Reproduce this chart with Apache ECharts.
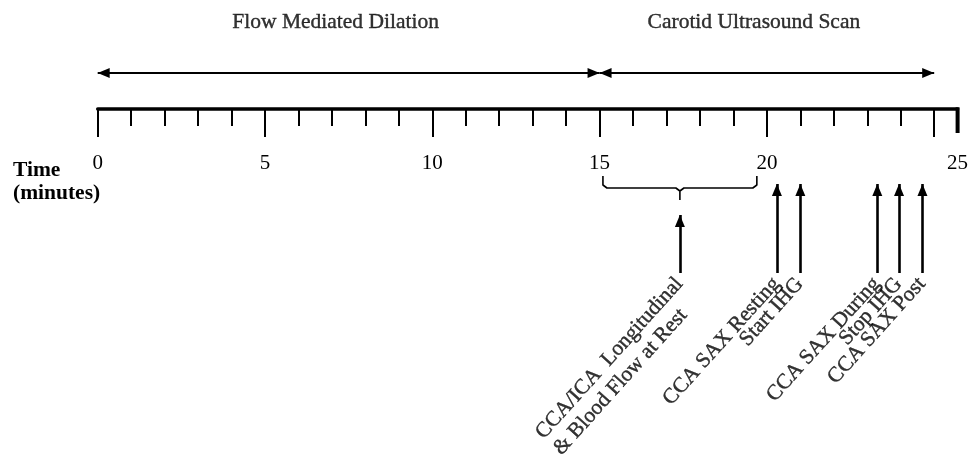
<!DOCTYPE html>
<html>
<head>
<meta charset="utf-8">
<script src="https://cdn.jsdelivr.net/npm/echarts@6/dist/echarts.min.js"></script>
<style>
  html, body { margin: 0; padding: 0; background: #fff; }
  #chart { width: 977px; height: 461px; }
</style>
</head>
<body>
<div id="chart"></div>
<script>
// time axis (minutes)
const AXIS_MIN = 0;
const AXIS_END = 25.7;
const LABEL_VALUES = [0, 5, 10, 15, 20, AXIS_END];
const TICK_LABELS = ['0', '5', '10', '15', '20', '25'];
const MAJOR_TICKS = [0, 5, 10, 15, 20, 25];
const MINOR_TICKS = [];
for (let i = 0; i <= 25; i++) MINOR_TICKS.push(i);

// study phases (top arrows)
const PHASE_NAMES = ['Flow Mediated Dilation', 'Carotid Ultrasound Scan'];
const PHASE_START = [0, 15];
const PHASE_END = [15, 25];

// brace over the resting measurement window
const BRACE = [15.1, 19.7];

// events (arrows pointing up at the timeline)
const EVENT_TIMES = [17.4, 20.3, 21.0, 23.3, 23.95, 24.65];
const EVENT_LABELS = [
    'CCA/ICA  Longitudinal\n& Blood Flow at Rest',
    'CCA SAX Resting',
    'Start IHG',
    'CCA SAX During',
    'Stop IHG',
    'CCA SAX Post'
];

// vertical layout, in pixels below the axis line (the grid is the band above it)
const AXIS_PX = 109;
const TITLE_Y = -87;
const PHASE_ARROW_Y = -36;
const END_CAP = 24;
const BRACE_TOP = 67, BRACE_MID = 79, BRACE_CUSP = 91;
const BRACE_ARROW_TIP = 106;
const ARROW_TIP = 75;
const ARROW_BOTTOM = 164;
const LABEL_Y = 168;

const FONT = '"Liberation Serif", "Times New Roman", serif';
const FS = 21.5;
// triangle with its tip at the symbol centre
const HEAD = 'path://M0,0L0,0M0,12L5,24L-5,24Z';

const chart = echarts.init(document.getElementById('chart'));

// brace path built from its two ends
const braceC = (BRACE[0] + BRACE[1]) / 2;
const r = 0.12;
const bracePts = [
    [BRACE[0], BRACE_TOP], [BRACE[0], BRACE_MID - 3], [BRACE[0] + r, BRACE_MID],
    [braceC - r, BRACE_MID], [braceC, BRACE_MID + 3], [braceC, BRACE_CUSP],
    [braceC, BRACE_MID + 3], [braceC + r, BRACE_MID],
    [BRACE[1] - r, BRACE_MID], [BRACE[1], BRACE_MID - 3], [BRACE[1], BRACE_TOP]
];

const inBrace = t => t > BRACE[0] && t < BRACE[1];
const tickText = v => {
    const i = LABEL_VALUES.findIndex(x => Math.abs(x - Number(v)) < 1e-6);
    return i >= 0 ? TICK_LABELS[i] : '';
};

const option = {
    animation: false,
    textStyle: { fontFamily: FONT, color: '#000' },
    grid: { left: 97.7, right: 19.4, top: 0, height: AXIS_PX, containLabel: false, outerBoundsMode: 'none' },
    xAxis: [
        {
            type: 'value', min: AXIS_MIN, max: AXIS_END, position: 'bottom',
            axisLine: { show: true, onZero: false, lineStyle: { color: '#000', width: 3.5 } },
            axisTick: { show: true, customValues: MAJOR_TICKS, length: 28, lineStyle: { color: '#000', width: 2 } },
            axisLabel: {
                show: true, customValues: LABEL_VALUES, margin: 44,
                fontSize: 21, fontFamily: FONT, color: '#000',
                formatter: tickText
            },
            splitLine: { show: false }
        },
        {
            type: 'value', min: AXIS_MIN, max: AXIS_END, position: 'bottom',
            axisLine: { show: false, onZero: false },
            axisTick: { show: true, customValues: MINOR_TICKS, length: 17, lineStyle: { color: '#000', width: 2 } },
            axisLabel: { show: false },
            splitLine: { show: false }
        }
    ],
    yAxis: {
        type: 'value', show: false, inverse: true,
        min: -AXIS_PX, max: 0,
        splitLine: { show: false }
    },
    graphic: [{
        type: 'text', left: 13, top: 159,
        style: {
            text: 'Time\n(minutes)', fontSize: FS, fontWeight: 'bold',
            fontFamily: FONT, fill: '#000', lineHeight: 23
        }
    }],
    series: [
        {
            name: 'phases', type: 'lines', coordinateSystem: 'cartesian2d', clip: false,
            symbol: [HEAD, HEAD], symbolSize: [[10, 24], [10, 24]],
            lineStyle: { color: '#000', width: 2, opacity: 1 },
            data: PHASE_NAMES.map((n, i) => ({ coords: [[PHASE_START[i], PHASE_ARROW_Y], [PHASE_END[i], PHASE_ARROW_Y]] })),
            silent: true
        },
        {
            name: 'phaseTitles', type: 'scatter', symbolSize: 0, clip: false,
            data: PHASE_NAMES.map((n, i) => ({ name: n, value: [(PHASE_START[i] + PHASE_END[i]) / 2, TITLE_Y] })),
            label: {
                show: true, position: 'inside', offset: [-13, 0], formatter: '{b}', fontSize: FS, fontFamily: FONT,
                color: '#000', textBorderColor: '#000', textBorderWidth: 0.4
            },
            silent: true
        },
        {
            name: 'brace', type: 'line', data: bracePts, showSymbol: false, clip: false,
            lineStyle: { color: '#000', width: 1.6 }, silent: true
        },
        {
            name: 'endCap', type: 'line', data: [[AXIS_END, -1.7], [AXIS_END, END_CAP]], showSymbol: false, clip: false,
            lineStyle: { color: '#000', width: 4 }, silent: true
        },
        {
            name: 'events', type: 'lines', coordinateSystem: 'cartesian2d', clip: false,
            symbol: ['none', HEAD], symbolSize: [[10, 24], [10, 24]],
            lineStyle: { color: '#000', width: 2.6, opacity: 1 },
            data: EVENT_TIMES.map(t => ({ coords: [[t, ARROW_BOTTOM], [t, inBrace(t) ? BRACE_ARROW_TIP : ARROW_TIP]] })),
            silent: true
        },
        {
            name: 'eventLabels', type: 'scatter', symbolSize: 0, clip: false,
            data: EVENT_TIMES.map((t, i) => ({ name: EVENT_LABELS[i], value: [t, LABEL_Y] })),
            label: {
                show: true, position: 'inside', rotate: 48, offset: [-3, -10],
                align: 'right', verticalAlign: 'top',
                formatter: p => p.name.split('\n').map(s => '{t|' + s + '}').join('\n'),
                rich: {
                    t: {
                        fontSize: FS, lineHeight: 24, fontFamily: FONT, color: '#000', align: 'left',
                        textBorderColor: '#000', textBorderWidth: 0.4
                    }
                }
            },
            silent: true
        }
    ]
};

chart.setOption(option);
</script>
</body>
</html>
